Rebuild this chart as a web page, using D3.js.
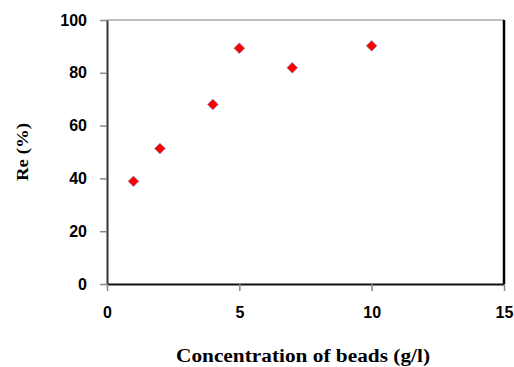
<!DOCTYPE html>
<html>
<head>
<meta charset="utf-8">
<script src="https://cdn.jsdelivr.net/npm/d3@7"></script>
<style>
  body { margin: 0; background: #fff; }
</style>
</head>
<body>
<div id="chart"></div>
<script>
// concentration of beads (g/l) vs Re (%)
var beads = [1, 2, 4, 5, 7, 10];
var removal = [38.9, 51.3, 68.0, 89.3, 81.9, 90.2];
var xTicks = [0, 5, 10, 15];
var yTicks = [0, 20, 40, 60, 80, 100];

var width = 514, height = 367;
var margin = {top: 20, right: 10, bottom: 83, left: 107};

var svg = d3.select("#chart").append("svg")
    .attr("width", width)
    .attr("height", height);

var x = d3.scaleLinear().domain([0, 15]).range([margin.left, width - margin.right]);
var y = d3.scaleLinear().domain([0, 100]).range([height - margin.bottom, margin.top]);

// frame
svg.append("line")
    .attr("x1", x(0)).attr("x2", x(15))
    .attr("y1", y(100)).attr("y2", y(100))
    .style("stroke", "#aaa").style("stroke-width", 1.5);
svg.append("line")
    .attr("x1", x(15)).attr("x2", x(15))
    .attr("y1", y(100)).attr("y2", y(0))
    .style("stroke", "#000").style("stroke-width", 2.5);

// y axis
var yAxis = svg.append("g")
    .attr("transform", "translate(" + x(0) + ",0)")
    .call(d3.axisLeft(y).tickValues(yTicks).tickSize(7).tickPadding(13).tickSizeOuter(0));
yAxis.select(".domain").style("stroke", "#333").style("stroke-width", 2);
yAxis.selectAll(".tick line").style("stroke", "#888").style("stroke-width", 1.5);
yAxis.selectAll("text")
    .style("font-family", "Arial, 'Liberation Sans', sans-serif")
    .style("font-weight", "bold")
    .style("font-size", "16px")
    .style("fill", "#000");

// x axis
var xAxis = svg.append("g")
    .attr("transform", "translate(0," + y(0) + ")")
    .call(d3.axisBottom(x).tickValues(xTicks).tickSize(7).tickPadding(16).tickSizeOuter(0));
xAxis.select(".domain").style("stroke", "#111").style("stroke-width", 2);
xAxis.selectAll(".tick line").style("stroke", "#888").style("stroke-width", 1.5);
xAxis.selectAll("text")
    .style("font-family", "Arial, 'Liberation Sans', sans-serif")
    .style("font-weight", "bold")
    .style("font-size", "16px")
    .style("fill", "#000");

// points
svg.append("g").selectAll("path")
    .data(beads)
    .join("path")
    .attr("transform", function(d, i) { return "translate(" + x(d) + "," + y(removal[i]) + ")"; })
    .attr("d", d3.symbol().type(d3.symbolDiamond2).size(75))
    .style("fill", "#ff0000")
    .style("stroke", "#9a9ad0")
    .style("stroke-width", 0.8);

// axis titles
svg.append("text")
    .text("Concentration of beads (g/l)")
    .attr("x", 303)
    .attr("y", 362)
    .attr("text-anchor", "middle")
    .attr("textLength", 254)
    .attr("lengthAdjust", "spacingAndGlyphs")
    .style("font-family", "'Liberation Serif', 'Times New Roman', serif")
    .style("font-weight", "bold")
    .style("font-size", "18px");

svg.append("text")
    .text("Re (%)")
    .attr("transform", "translate(28,152) rotate(-90)")
    .attr("text-anchor", "middle")
    .attr("textLength", 58)
    .attr("lengthAdjust", "spacingAndGlyphs")
    .style("font-family", "'Liberation Serif', 'Times New Roman', serif")
    .style("font-weight", "bold")
    .style("font-size", "17px");
</script>
</body>
</html>
